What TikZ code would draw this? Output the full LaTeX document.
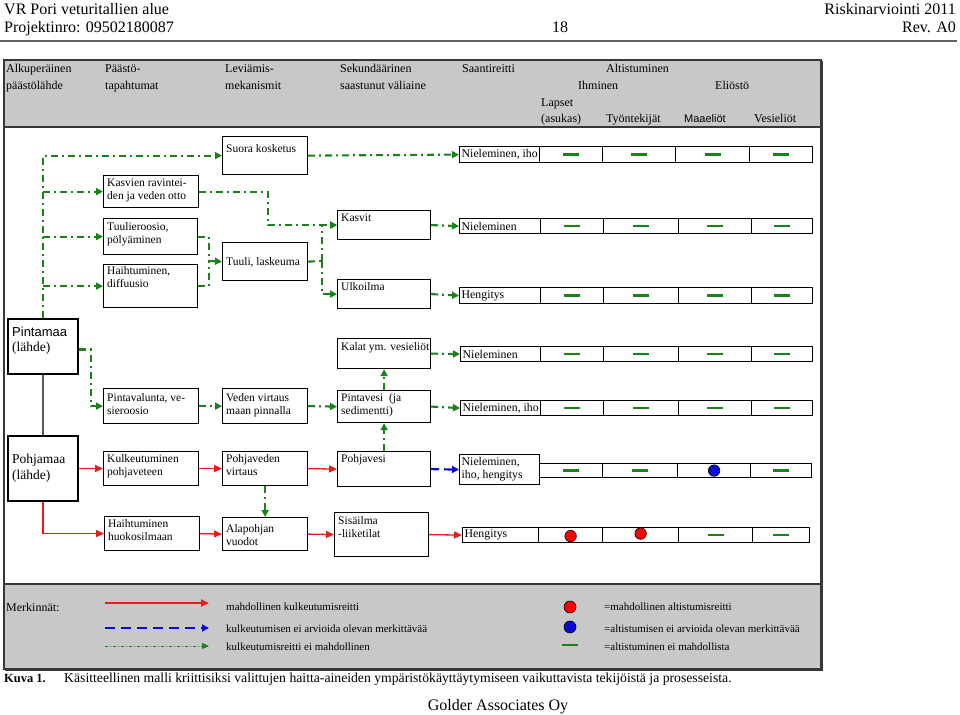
\documentclass[tikz,border=0pt]{standalone}
\usepackage{fontspec}
\setmainfont{Liberation Serif}
\newfontfamily\arialf{Liberation Sans}
\usetikzlibrary{arrows.meta,calc}
\definecolor{gdd}{RGB}{25,130,25}
\definecolor{rr}{RGB}{235,25,25}
\definecolor{bb}{RGB}{10,10,215}
\definecolor{hg}{RGB}{200,200,200}
\definecolor{fr}{RGB}{55,55,55}
\newcommand\fs[2]{\fontsize{#1}{#2}\selectfont}
% box: name, x1, y1, x2, y2, text offset, text
\newcommand\bx[7]{%
  \node[box,minimum width={(#4-#2)*1pt},minimum height={(#5-#3)*1pt}] (#1) at (#2,#3) {};
  \node[btxt] (#1t) at (#2+4,#3+#6) {#7};}
% row label: name, x1, y1, x2, y2, text
\newcommand\rl[6]{%
  \node[box,minimum width={(#4-#2)*1pt},minimum height={(#5-#3)*1pt}] (#1) at (#2,#3) {};
  \node[rtxt] (#1t) at ([xshift=2.5pt]#1.west) {#6};}
% cells: name, y1, y2, b1..b5
\newcommand\cl[8]{%
  \node[box,minimum width={(#5-#4)*1pt},minimum height={(#3-#2)*1pt}] (#1a) at (#4,#2) {};
  \node[box,minimum width={(#6-#5)*1pt},minimum height={(#3-#2)*1pt}] (#1b) at (#5,#2) {};
  \node[box,minimum width={(#7-#6)*1pt},minimum height={(#3-#2)*1pt}] (#1c) at (#6,#2) {};
  \node[box,minimum width={(#8-#7)*1pt},minimum height={(#3-#2)*1pt}] (#1d) at (#7,#2) {};}
\newcommand\gm[1]{\draw[gmark] ([xshift=-8pt]#1.center) -- ([xshift=8pt]#1.center);}
\begin{document}
\begin{tikzpicture}[x=1pt,y=-1pt,
  box/.style={draw=black,line width=1.2pt,inner sep=0pt,anchor=north west,fill=white},
  btxt/.style={inner sep=0pt,anchor=north west,align=left,font=\fs{11.5}{13}},
  rtxt/.style={inner sep=0pt,anchor=west,align=left,font=\fs{11.8}{13}},
  htxt/.style={inner sep=0pt,anchor=base west,font=\fs{12}{14}},
  ltxt/.style={inner sep=0pt,anchor=base west,font=\fs{11}{13}},
  gline/.style={draw=gdd,line width=2.1pt,dash pattern=on 7pt off 4pt on 2pt off 4pt},
  garr/.style={gline,-{Triangle[length=7pt,width=7pt]}},
  rline/.style={draw=rr,line width=1.3pt},
  rarr/.style={rline,-{Triangle[length=8pt,width=7pt]}},
  barr/.style={draw=bb,line width=2.2pt,dash pattern=on 8pt off 5pt,-{Triangle[length=7pt,width=7pt]}},
  gmark/.style={draw=gdd,line width=2.5pt},
  rdot/.style={circle,draw=black,line width=0.6pt,fill=red,minimum size=11.5pt,inner sep=0pt},
  bdot/.style={circle,draw=black,line width=0.6pt,fill=bb,minimum size=11.5pt,inner sep=0pt},
]
\useasboundingbox (0,0) rectangle (960,714);
\fill[white] (0,0) rectangle (960,714);

% page header
\node[inner sep=0pt,anchor=base west,font=\fs{16}{18}] (hA) at (4,15) {VR Pori veturitallien alue};
\node[inner sep=0pt,anchor=base west,font=\fs{16}{18}] (hB) at (4,33) {Projektinro: 09502180087};
\node[inner sep=0pt,anchor=base,font=\fs{16}{18}] (hC) at (560,33) {18};
\node[inner sep=0pt,anchor=base east,font=\fs{16}{18}] (hD) at (956,15) {Riskinarviointi 2011};
\node[inner sep=0pt,anchor=base east,font=\fs{16}{18}] (hE) at (956,33) {Rev. A0};
\draw[draw=gray!75!black,line width=1.5pt] (0,41) -- (957,41);

% frame
\fill[hg] (4,60) rectangle (821,127);
\fill[hg] (4,584) rectangle (821,669);
\draw[fr,line width=1.5pt] (4,60) rectangle (821,669);
\draw[fr,line width=1.8pt] (4,127) -- (821,127);
\draw[fr,line width=1.8pt] (4,584) -- (821,584);
\draw[fr,line width=2.5pt] (822,61) -- (822,670) -- (5,670);

% column headings
\node[htxt] (c1a) at (6,73) {Alkuperäinen};
\node[htxt] (c1b) at (6,90) {päästölähde};
\node[htxt] (c2a) at (105,73) {Päästö-};
\node[htxt] (c2b) at (105,90) {tapahtumat};
\node[htxt] (c3a) at (225,73) {Leviämis-};
\node[htxt] (c3b) at (225,90) {mekanismit};
\node[htxt] (c4a) at (340,73) {Sekundäärinen};
\node[htxt] (c4b) at (340,90) {saastunut väliaine};
\node[htxt] (c5a) at (462,73) {Saantireitti};
\node[htxt] (c6a) at (606,73) {Altistuminen};
\node[htxt] (c6b) at (578,90) {Ihminen};
\node[htxt] (c6c) at (715,90) {Eliöstö};
\node[htxt] (c7a) at (541,107) {Lapset};
\node[htxt] (c7b) at (541,123) {(asukas)};
\node[htxt] (c8) at (606,123) {Työntekijät};
\node[htxt,font=\arialf\fs{11}{13}] (c9) at (684,123) {Maaeliöt};
\node[htxt] (c10) at (754,123) {Vesieliöt};

% source boxes
\node[box,line width=2pt,minimum width=70pt,minimum height=55pt] (pinta) at (7,318) {};
\node[inner sep=0pt,anchor=base west,font=\arialf\fs{13}{15}] (pintaA) at (12,336) {Pintamaa};
\node[inner sep=0pt,anchor=base west,font=\fs{13.5}{15}] (pintaB) at (12,351) {(lähde)};
\node[box,line width=2pt,minimum width=70pt,minimum height=65pt] (pohja) at (7,435) {};
\node[inner sep=0pt,anchor=base west,font=\fs{13.5}{15}] (pohjaA) at (12,463) {Pohjamaa};
\node[inner sep=0pt,anchor=base west,font=\fs{13.5}{15}] (pohjaB) at (12,479) {(lähde)};

% process boxes
\bx{suora}{222}{136}{307}{174}{8}{Suora kosketus}
\bx{kasv}{103}{175}{198}{207}{4}{Kasvien ravintei-\\den ja veden otto}
\bx{tuuler}{103}{218}{197}{254}{4}{Tuulieroosio,\\pölyäminen}
\bx{haiht}{103}{264}{197}{307}{2.5}{Haihtuminen,\\diffuusio}
\bx{tuuli}{222}{242}{307}{280}{15}{Tuuli, laskeuma}
\bx{kasvit}{337}{210}{430}{239}{4}{Kasvit}
\bx{ulko}{337}{279}{430}{308}{3}{Ulkoilma}
\bx{kalat}{337}{338}{430}{368}{4}{Kalat ym. vesieliöt}
\bx{pvalu}{103}{388}{198}{423}{5}{Pintavalunta, ve-\\sieroosio}
\bx{veden}{222}{388}{307}{423}{5}{Veden virtaus\\maan pinnalla}
\bx{pintav}{337}{390}{430}{422}{3}{Pintavesi\ \ (ja\\sedimentti)}
\bx{kulk}{103}{451}{198}{485}{3}{Kulkeutuminen\\pohjaveteen}
\bx{pvirt}{222}{451}{307}{485}{3}{Pohjaveden\\virtaus}
\bx{pohjv}{337}{451}{430}{486}{3}{Pohjavesi}
\bx{haihk}{104}{516}{199}{550}{3}{Haihtuminen\\huokosilmaan}
\bx{alap}{222}{517}{307}{550}{7}{Alapohjan\\vuodot}
\bx{sisa}{334}{512}{428}{556}{4}{Sisäilma\\-liiketilat}

% exposure rows
\rl{r1}{459}{146}{539}{162}{Nieleminen, iho}
\cl{r1}{146}{162}{539}{602}{675}{749}{812}
\rl{r2}{459}{218}{540}{233}{Nieleminen}
\cl{r2}{218}{233}{540}{603}{678}{751}{812}
\rl{r3}{459}{287}{540}{303}{Hengitys}
\cl{r3}{287}{303}{540}{603}{678}{751}{812}
\rl{r4}{460}{346}{540}{361}{Nieleminen}
\cl{r4}{346}{361}{540}{603}{678}{751}{812}
\rl{r5}{460}{400}{540}{415}{Nieleminen, iho}
\cl{r5}{400}{415}{540}{603}{678}{751}{812}
\rl{r6}{459}{454}{539}{484}{Nieleminen,\\iho, hengitys}
\cl{r6}{463}{477}{539}{602}{677}{750}{811}
\rl{r7}{462}{527}{538}{542}{Hengitys}
\cl{r7}{527}{542}{538}{602}{678}{752}{809}

\foreach \r in {r1,r2,r3,r4,r5}{\gm{\r a}\gm{\r b}\gm{\r c}\gm{\r d}}
\gm{r6a}\gm{r6b}\gm{r6d}
\node[bdot] (r6dot) at (r6c.center) {};
\node[rdot] (r7dot1) at ([yshift=-1pt]r7a.center) {};
\node[rdot] (r7dot2) at ([yshift=1.5pt]r7b.center) {};
\gm{r7c}\gm{r7d}

% green connectors, upper part
\draw[garr] (pinta.north) |- (suora.west);
\draw[garr] (pinta.north |- kasv.west) -- (kasv.west);
\draw[garr] (pinta.north |- tuuler.west) -- (tuuler.west);
\draw[garr] (pinta.north |- haiht.west) -- (haiht.west);
\draw[garr] (suora.east) -- (r1.west);
\draw[garr] (kasv.east) -- ++(69,0) |- (kasvit.west);
\coordinate (j1) at (209,261);
\draw[gline] (tuuler.east) -| (j1);
\draw[gline] (haiht.east) -| (j1);
\draw[garr] (j1) -- (tuuli.west);
\coordinate (j2) at (322,261);
\draw[gline] (tuuli.east) -- (j2);
\draw[garr] (j2) |- (kasvit.west);
\draw[garr] (j2) |- (ulko.west);
\draw[garr] (kasvit.east) -- (r2.west);
\draw[garr] (ulko.east) -- (r3.west);

% middle part
\draw[draw=gray!70!black,line width=2pt] (pinta.south) -- (pohja.north);
\draw[garr] ([yshift=-3pt]pinta.east) -- ++(12,0) |- (pvalu.west);
\draw[garr] (pvalu.east) -- (veden.west);
\draw[garr] (veden.east) -- (pintav.west);
\draw[garr] (pintav.north) -- (kalat.south);
\draw[garr] (pohjv.north) -- (pintav.south);
\draw[garr] (kalat.east) -- (r4.west);
\draw[garr] (pintav.east) -- (r5.west);
\draw[rarr] (pohja.east) -- (kulk.west);
\draw[rarr] (kulk.east) -- (pvirt.west);
\draw[rarr] (pvirt.east) -- (pohjv.west);
\draw[barr] (pohjv.east) -- (r6.west);
\draw[garr] (pvirt.south) -- (alap.north);
\draw[rarr] (pohja.south) |- (haihk.west);
\draw[rarr] (haihk.east) -- (alap.west);
\draw[rarr] (alap.east) -- (sisa.west);
\draw[rarr] (sisa.east) -- (r7.west);

% legend
\node[ltxt,font=\fs{12}{14}] (mk) at (6,611) {Merkinnät:};
\coordinate (la1) at (105,603); \coordinate (lb1) at (209,603);
\coordinate (la2) at (105,628); \coordinate (lb2) at (209,628);
\coordinate (la3) at (105,646); \coordinate (lb3) at (209,646);
\draw[draw=rr,line width=2.2pt,-{Triangle[length=8pt,width=7pt]}] (la1) -- (lb1);
\draw[draw=bb,line width=2.5pt,dash pattern=on 10pt off 6pt,-{Triangle[length=7pt,width=7pt]}] (la2) -- (lb2);
\draw[draw=gdd,line width=0.9pt,dash pattern=on 3pt off 2pt on 1pt off 2pt,-{Triangle[length=7pt,width=6pt]}] (la3) -- (lb3);
\node[ltxt] (l1) at (226,610) {mahdollinen kulkeutumisreitti};
\node[ltxt] (l2) at (226,632) {kulkeutumisen ei arvioida olevan merkittävää};
\node[ltxt] (l3) at (226,650) {kulkeutumisreitti ei mahdollinen};
\node[rdot,minimum size=12pt] (d1) at (570,607) {};
\node[bdot,minimum size=12pt] (d2) at (570,627) {};
\coordinate (d3a) at (562,645); \coordinate (d3b) at (578,645);
\draw[gmark] (d3a) -- (d3b);
\node[ltxt] (l4) at (604,610) {=mahdollinen altistumisreitti};
\node[ltxt] (l5) at (604,632) {=altistumisen ei arvioida olevan merkittävää};
\node[ltxt] (l6) at (604,650) {=altistuminen ei mahdollista};

% caption and footer
\node[inner sep=0pt,anchor=base west,font=\bfseries\fs{12.5}{14}] (cap1) at (4,682) {Kuva 1.};
\node[inner sep=0pt,anchor=base west,font=\fs{13.7}{15}] (cap2) at (64,682) {Käsitteellinen malli kriittisiksi valittujen haitta-aineiden ympäristökäyttäytymiseen vaikuttavista tekijöistä ja prosesseista.};
\node[inner sep=0pt,anchor=base,font=\fs{16}{18}] (gold) at (498,710) {Golder Associates Oy};
\end{tikzpicture}
\end{document}
